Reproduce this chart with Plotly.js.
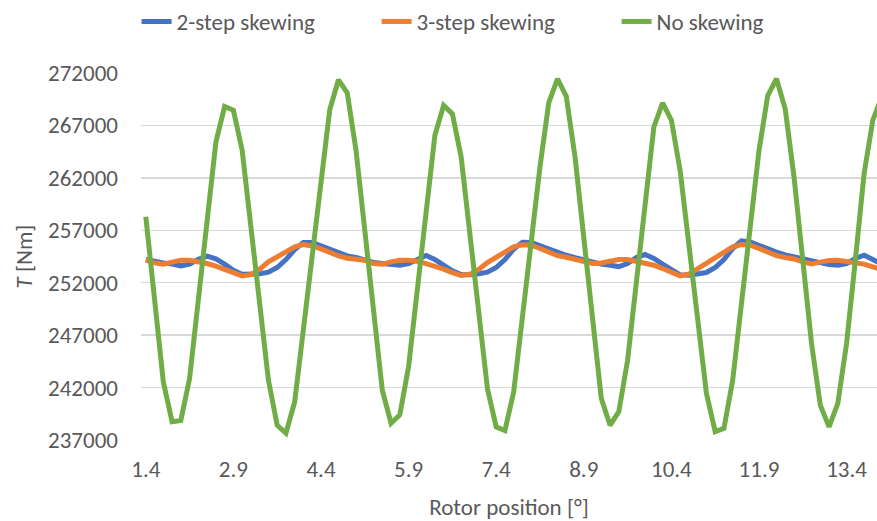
<!DOCTYPE html>
<html>
<head>
<meta charset="utf-8">
<script src="https://cdn.plot.ly/plotly-3.0.1.min.js"></script>
<style>
  html, body { margin: 0; padding: 0; background: #ffffff; }
  #chart { width: 877px; height: 521px; }
</style>
</head>
<body>
<div id="chart"></div>
<script>
// Rotor position [deg] (categories)
const rotorPosition = [
  1.4, 1.55, 1.7, 1.85, 2.0, 2.15, 2.3, 2.45, 2.6, 2.75,
  2.9, 3.05, 3.2, 3.35, 3.5, 3.65, 3.8, 3.95, 4.1, 4.25,
  4.4, 4.55, 4.7, 4.85, 5.0, 5.15, 5.3, 5.45, 5.6, 5.75,
  5.9, 6.05, 6.2, 6.35, 6.5, 6.65, 6.8, 6.95, 7.1, 7.25,
  7.4, 7.55, 7.7, 7.85, 8.0, 8.15, 8.3, 8.45, 8.6, 8.75,
  8.9, 9.05, 9.2, 9.35, 9.5, 9.65, 9.8, 9.95, 10.1, 10.25,
  10.4, 10.55, 10.7, 10.85, 11.0, 11.15, 11.3, 11.45, 11.6, 11.75,
  11.9, 12.05, 12.2, 12.35, 12.5, 12.65, 12.8, 12.95, 13.1, 13.25,
  13.4, 13.55, 13.7, 13.85, 14.0
];

// Torque T [Nm], 2-step skewing
const twoStep = [
  254210, 253990, 253890, 253770, 253610, 253770, 254240, 254530, 254270, 253770,
  253190, 252810, 252780, 252850, 253000, 253450, 254210, 255160, 255830, 255830,
  255510, 255160, 254850, 254560, 254400, 254150, 253930, 253830, 253770, 253670,
  253830, 254210, 254590, 254210, 253670, 253130, 252780, 252750, 252850, 253000,
  253450, 254210, 255200, 255860, 255830, 255510, 255160, 254910, 254620, 254400,
  254150, 253930, 253770, 253670, 253540, 253830, 254400, 254690, 254310, 253770,
  253190, 252750, 252720, 252810, 252970, 253450, 254210, 255260, 255990, 255890,
  255550, 255200, 254910, 254660, 254470, 254210, 253990, 253830, 253730, 253670,
  253830, 254310, 254620, 254210, 253770
];

// Torque T [Nm], 3-step skewing
const threeStep = [
  254150, 253890, 253770, 253960, 254150, 254150, 254020, 253830, 253580, 253290,
  252940, 252650, 252780, 253290, 253990, 254470, 254940, 255420, 255640, 255510,
  255230, 254880, 254560, 254340, 254270, 254150, 253830, 253770, 253990, 254150,
  254150, 254050, 253830, 253610, 253290, 252970, 252690, 252810, 253260, 253930,
  254470, 254940, 255420, 255610, 255580, 255260, 254910, 254590, 254430, 254270,
  254050, 253830, 253890, 254080, 254210, 254210, 254050, 253890, 253670, 253350,
  253000, 252650, 252810, 253320, 253960, 254470, 254940, 255420, 255640, 255580,
  255260, 254910, 254590, 254400, 254270, 253990, 253800, 253960, 254120, 254150,
  254050, 253960, 253770, 253510, 253260
];

// Torque T [Nm], no skewing
const noSkew = [
  258300, 250300, 242550, 238750, 238850, 242870, 250400, 257900, 265400, 268800,
  268450, 264630, 257300, 250000, 242700, 238400, 237650, 240650, 247500, 254800,
  261900, 268500, 271350, 270100, 264630, 257000, 249400, 241750, 238600, 239400,
  244000, 251350, 258700, 266050, 268900, 268100, 264000, 256600, 249300, 241900,
  238250, 237900, 241600, 248750, 255900, 263050, 269150, 271450, 269780, 264000,
  256300, 248650, 240950, 238400, 239700, 244600, 252000, 259450, 266850, 269150,
  267500, 262700, 255650, 248500, 241450, 237800, 238100, 242700, 250000, 257300,
  264600, 269850, 271450, 268550, 262100, 254150, 246200, 240330, 238250, 240500,
  246200, 254150, 262400, 267500, 269700
];

const seriesNames = ['2-step skewing', '3-step skewing', 'No skewing'];
const xTickVals = [1.4, 2.9, 4.4, 5.9, 7.4, 8.9, 10.4, 11.9, 13.4];
const xTickText = ['1.4', '2.9', '4.4', '5.9', '7.4', '8.9', '10.4', '11.9', '13.4'];
const yTickVals = [237000, 242000, 247000, 252000, 257000, 262000, 267000, 272000];
const yTickText = ['237000', '242000', '247000', '252000', '257000', '262000', '267000', '272000'];

const FONT = 'Carlito, Calibri, Lato, sans-serif';
const TXT = '#595959';

const mk = (y, name, color) => ({
  x: rotorPosition, y: y, name: name, type: 'scatter', mode: 'lines',
  line: { color: color, width: 5, shape: 'linear' },
  hoverinfo: 'skip'
});

const data = [
  mk(twoStep, seriesNames[0], '#4472C4'),
  mk(threeStep, seriesNames[1], '#ED7D31'),
  mk(noSkew, seriesNames[2], '#70AD47')
];

const layout = {
  width: 877, height: 521,
  margin: { l: 141, r: 0, t: 73, b: 81 },
  paper_bgcolor: '#ffffff', plot_bgcolor: '#ffffff',
  font: { family: FONT, color: TXT, size: 23 },
  showlegend: true,
  legend: {
    orientation: 'h', x: -0.006, xanchor: 'left', y: 1.2, yanchor: 'top',
    font: { family: FONT, size: 23, color: TXT },
    entrywidth: 195, entrywidthmode: 'pixels',
    bgcolor: 'rgba(0,0,0,0)'
  },
  xaxis: {
    range: [1.318, 13.921],
    tickmode: 'array', tickvals: xTickVals, ticktext: xTickText,
    showgrid: false, zeroline: false, showline: false, ticks: '',
    tickfont: { family: FONT, size: 23, color: TXT },
    ticklabelstandoff: 13,
    title: { text: 'Rotor position [°]', font: { family: FONT, size: 23, color: TXT }, standoff: 19 }
  },
  yaxis: {
    range: [237000, 272000],
    tickmode: 'array', tickvals: yTickVals, ticktext: yTickText,
    showgrid: true, gridcolor: '#D9D9D9', gridwidth: 1.5,
    zeroline: false, showline: false, ticks: '',
    tickfont: { family: FONT, size: 23, color: TXT },
    ticklabelstandoff: 22,
    title: { text: '<i>T</i> [Nm]', font: { family: FONT, size: 23, color: TXT }, standoff: 8 }
  }
};

Plotly.newPlot('chart', data, layout, { displayModeBar: false, staticPlot: true });
</script>
</body>
</html>
